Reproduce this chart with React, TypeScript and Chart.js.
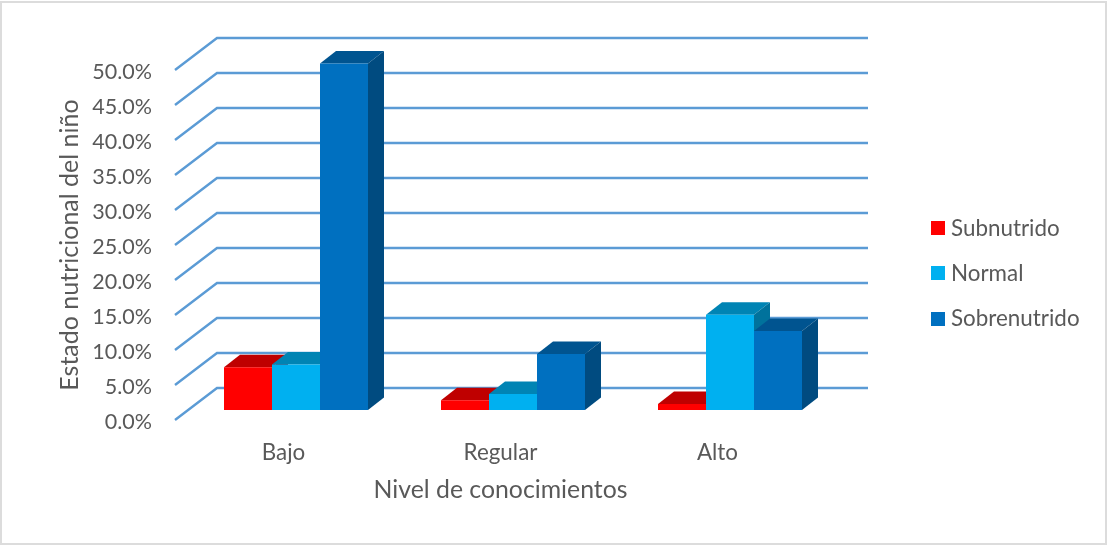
import React, { useEffect, useRef } from "react";
import { Chart, registerables } from "chart.js";

Chart.register(...registerables);

const categories = ["Bajo", "Regular", "Alto"];
const subnutrido = [6.1, 1.4, 0.85];
const normal = [6.5, 2.3, 13.6];
const sobrenutrido = [49.5, 8.0, 11.3];

const seriesNames = ["Subnutrido", "Normal", "Sobrenutrido"];
const frontColors = ["#ff0000", "#00b0f0", "#0070c0"];
const topColors = ["#bf0000", "#0084b4", "#005490"];
const sideColors = ["#a60000", "#00729c", "#004b80"];

const FONT = "Lato, Carlito, sans-serif";
const TEXT = "#595959";
const GRID = "#5b9bd5";

// Oblique projection of the wall and of the bars standing on the floor
const WALL = { dx: 42, dy: -32 };
const BAR_SHIFT = { dx: 12.5, dy: -10 };
const BAR_DEPTH = { dx: 16, dy: -12.5 };

function face(ctx: CanvasRenderingContext2D, pts: number[][], color: string) {
  ctx.fillStyle = color;
  ctx.beginPath();
  pts.forEach(([x, y], i) => (i ? ctx.lineTo(x, y) : ctx.moveTo(x, y)));
  ctx.closePath();
  ctx.fill();
}

const scene3d = {
  id: "scene3d",
  beforeDatasetsDraw(chart: any) {
    const { ctx, chartArea, scales } = chart;
    ctx.save();

    // Wall and side gridlines, one per tick of the value axis
    ctx.strokeStyle = GRID;
    ctx.lineWidth = 2.4;
    scales.y.ticks.forEach((t: any) => {
      const y = scales.y.getPixelForValue(t.value);
      ctx.beginPath();
      ctx.moveTo(chartArea.left, y);
      ctx.lineTo(chartArea.left + WALL.dx, y + WALL.dy);
      ctx.lineTo(chartArea.right + WALL.dx, y + WALL.dy);
      ctx.stroke();
    });

    // Prisms, in series order so that later series cover earlier side faces
    chart.data.datasets.forEach((_: any, i: number) => {
      chart.getDatasetMeta(i).data.forEach((bar: any) => {
        const l = bar.x - bar.width / 2 + BAR_SHIFT.dx;
        const r = bar.x + bar.width / 2 + BAR_SHIFT.dx;
        const t = bar.y + BAR_SHIFT.dy;
        const b = bar.base + BAR_SHIFT.dy;
        const { dx, dy } = BAR_DEPTH;
        face(ctx, [[l, t], [l + dx, t + dy], [r + dx, t + dy], [r, t]], topColors[i]);
        face(ctx, [[r, t], [r + dx, t + dy], [r + dx, b + dy], [r, b]], sideColors[i]);
        face(ctx, [[l, t], [r, t], [r, b], [l, b]], frontColors[i]);
      });
    });
    ctx.restore();
  },
  beforeDatasetDraw() {
    return false;
  },
  afterDraw(chart: any) {
    // Series key to the right of the plot
    const { ctx } = chart;
    ctx.save();
    ctx.font = `22.4px ${FONT}`;
    ctx.textBaseline = "middle";
    ctx.textAlign = "left";
    seriesNames.forEach((name, i) => {
      const y = 228 + i * 45.3;
      ctx.fillStyle = frontColors[i];
      ctx.fillRect(931, Math.round(y) - 7, 14, 14);
      ctx.fillStyle = TEXT;
      ctx.fillText(name, 951, y + 0.5);
    });
    ctx.restore();
  },
};

export default function App() {
  const ref = useRef<HTMLCanvasElement>(null);

  useEffect(() => {
    document.body.style.margin = "0";
    const chart = new Chart(ref.current!, {
      type: "bar",
      data: {
        labels: categories,
        datasets: [
          { label: seriesNames[0], data: subnutrido, backgroundColor: frontColors[0] },
          { label: seriesNames[1], data: normal, backgroundColor: frontColors[1] },
          { label: seriesNames[2], data: sobrenutrido, backgroundColor: frontColors[2] },
        ],
      },
      options: {
        responsive: false,
        animation: false,
        layout: { padding: { left: 50, top: 70, right: 281, bottom: 40 } },
        datasets: { bar: { barPercentage: 1, categoryPercentage: 144 / 217 } },
        plugins: {
          legend: { display: false },
          tooltip: { enabled: false },
        },
        scales: {
          x: {
            grid: { display: false },
            border: { display: false },
            ticks: {
              color: TEXT,
              font: { family: FONT, size: 22.4 },
              padding: 11,
            },
            title: {
              display: true,
              text: "Nivel de conocimientos",
              color: TEXT,
              font: { family: FONT, size: 24.8 },
              padding: { top: 14, bottom: 0 },
            },
            afterFit(scale: any) {
              scale.height = 85;
            },
          },
          y: {
            min: 0,
            max: 50,
            grid: { display: false },
            border: { display: false },
            ticks: {
              stepSize: 5,
              padding: 15,
              labelOffset: 2,
              color: TEXT,
              font: { family: FONT, size: 21.5 },
              callback: (v: any) => `${Number(v).toFixed(1)}%`,
            },
            title: {
              display: true,
              text: "Estado nutricional del niño",
              color: TEXT,
              font: { family: FONT, size: 25 },
              padding: { top: 5, bottom: 0 },
            },
            afterFit(scale: any) {
              scale.width = 125;
            },
          },
        },
      },
      plugins: [scene3d],
    });
    return () => chart.destroy();
  }, []);

  return (
    <div style={{ position: "absolute", left: 0, top: 0, width: 1107, height: 545, background: "#fff" }}>
      <canvas ref={ref} width={1107} height={545} style={{ display: "block" }} />
      <div
        style={{
          position: "absolute",
          left: 0,
          top: 1,
          width: 1103,
          height: 540,
          border: "2px solid #dcdcdc",
        }}
      />
    </div>
  );
}
